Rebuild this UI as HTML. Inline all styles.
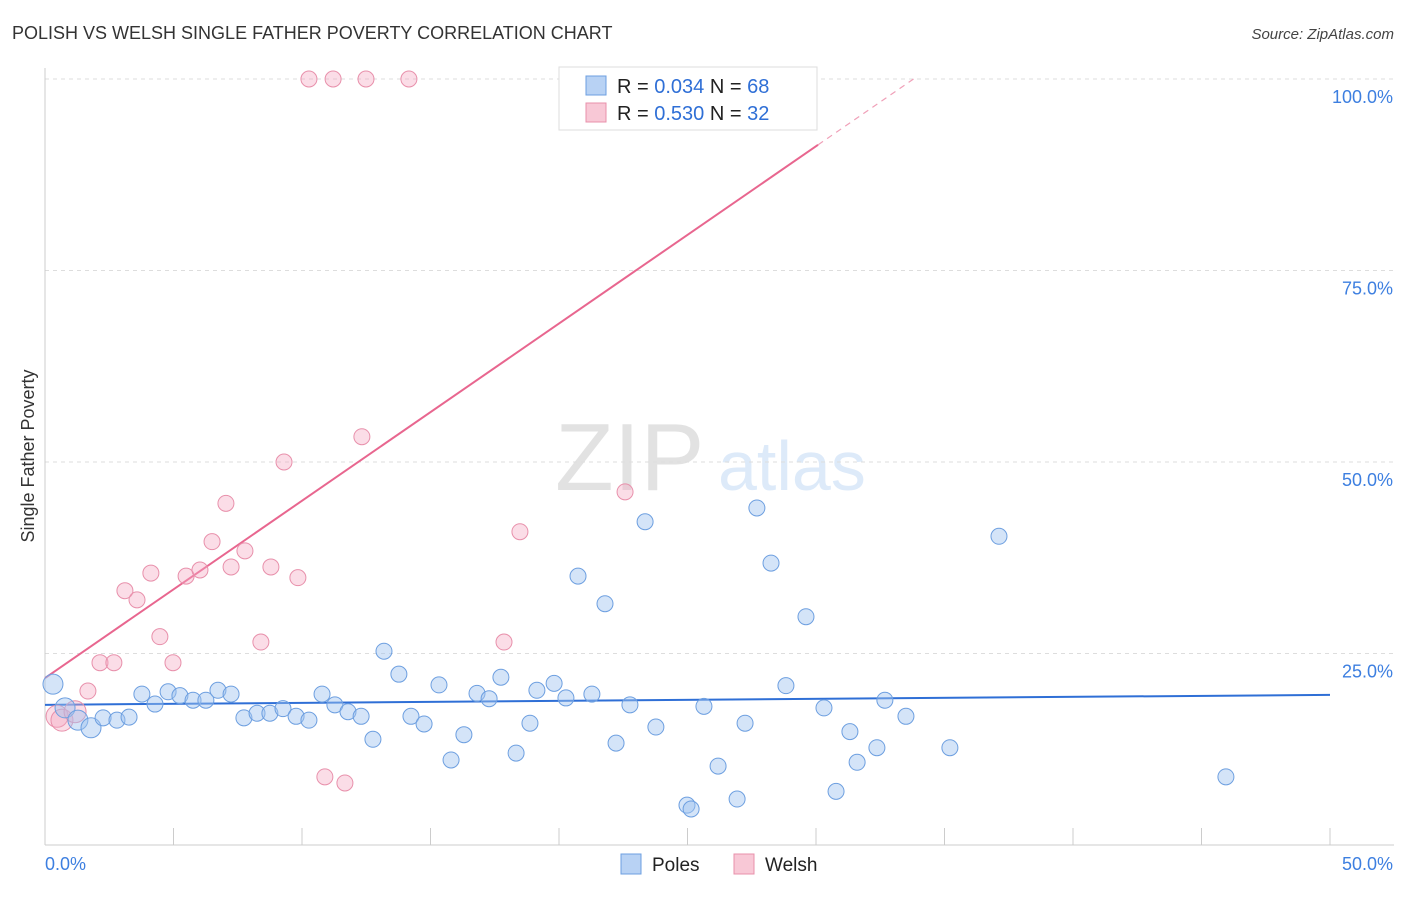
<!DOCTYPE html>
<html><head><meta charset="utf-8"><style>
body{margin:0;background:#fff;font-family:"Liberation Sans",sans-serif;}
svg text{font-family:"Liberation Sans",sans-serif;}
</style></head><body>
<svg id="chart" width="1406" height="892" xmlns="http://www.w3.org/2000/svg">
<text x="12" y="39" font-size="18" fill="#333">POLISH VS WELSH SINGLE FATHER POVERTY CORRELATION CHART</text>
<text x="1394" y="39" font-size="15" fill="#444" text-anchor="end" font-style="italic">Source: ZipAtlas.com</text>
<text transform="translate(34,456) rotate(-90)" font-size="18" fill="#333" text-anchor="middle">Single Father Poverty</text>
<g opacity="0.18"><text x="555" y="490" font-size="96" font-family="Liberation Serif" fill="#666">ZIP</text><text x="718" y="490" font-size="70" fill="#4a8fe0">atlas</text></g>
<g id="grid"></g><g id="axes"></g><g id="lines"></g><g id="pts"></g>
<g>
<rect x="559" y="67" width="258" height="63" fill="#fff" stroke="#ddd"/>
<rect x="586" y="76" width="20" height="19" fill="#b8d2f4" stroke="#6d9fe0"/>
<text x="617" y="93" font-size="20" fill="#222">R = <tspan fill="#2f6fd6">0.034</tspan>   N = <tspan fill="#2f6fd6">68</tspan></text>
<rect x="586" y="103" width="20" height="19" fill="#f8c8d6" stroke="#e890ab"/>
<text x="617" y="120" font-size="20" fill="#222">R = <tspan fill="#2f6fd6">0.530</tspan>   N = <tspan fill="#2f6fd6">32</tspan></text>
</g>
<g>
<rect x="621" y="854" width="20" height="20" fill="#b8d2f4" stroke="#6d9fe0"/>
<text x="652" y="871" font-size="19" fill="#222">Poles</text>
<rect x="734" y="854" width="20" height="20" fill="#f8c8d6" stroke="#e890ab"/>
<text x="765" y="871" font-size="19" fill="#222">Welsh</text>
</g>
</svg>
<script>
const blueX=[0.31,0.78,1.28,1.79,2.26,2.80,3.27,3.77,4.28,4.79,5.25,5.76,6.26,6.73,7.24,7.74,8.25,8.75,9.26,9.77,10.27,10.78,11.28,11.79,12.30,12.76,13.19,13.77,14.24,14.75,15.33,15.80,16.30,16.81,17.28,17.74,18.33,18.87,19.14,19.81,20.27,20.74,21.28,21.79,22.22,22.76,23.35,23.77,24.98,25.14,25.64,26.19,26.93,27.24,27.70,28.25,28.83,29.61,30.31,30.78,31.32,31.60,32.37,32.68,33.50,35.21,37.12,45.95];
const blueY=[21.0,17.9,16.3,15.3,16.6,16.3,16.7,19.7,18.4,20.0,19.5,18.9,18.9,20.2,19.7,16.6,17.2,17.2,17.8,16.8,16.3,19.7,18.3,17.4,16.8,13.8,25.3,22.3,16.8,15.8,20.9,11.1,14.4,19.8,19.1,21.9,12.0,15.9,20.2,21.1,19.2,35.1,19.7,31.5,13.3,18.3,42.2,15.4,5.2,4.7,18.1,10.3,6.0,15.9,44.0,36.8,20.8,29.8,17.9,7.0,14.8,10.8,12.7,18.9,16.8,12.7,40.3,8.9];
const pinkX=[0.47,0.66,1.17,1.67,2.14,2.68,3.11,3.58,4.12,4.47,4.98,5.49,6.03,6.50,7.04,7.24,7.78,8.40,8.79,9.30,9.84,10.27,10.89,11.21,11.67,12.33,12.49,14.16,17.86,18.48,22.57,26.58];
const pinkY=[16.8,16.3,17.4,20.1,23.8,23.8,33.2,32.0,35.5,27.2,23.8,35.1,35.9,39.6,44.6,36.3,38.4,26.5,36.3,50.0,34.9,100,8.9,100,8.1,53.3,100,100,26.5,40.9,46.1,100];
const blueLine=[18.3,19.6];   // y at x=0, y at x=50
const pinkLine=[21.8,2.314];  // intercept, slope
const yTicks=[25,50,75,100];
const yTickLabels=["25.0%","50.0%","75.0%","100.0%"];
const xTicks=[0,5,10,15,20,25,30,35,40,45,50];
const NS="http://www.w3.org/2000/svg";
const sx=v=>45+v*25.7, sy=v=>845-v*7.66;
function mk(parent,tag,attrs){const e=document.createElementNS(NS,tag);for(const k in attrs)e.setAttribute(k,attrs[k]);document.getElementById(parent).appendChild(e);return e;}
yTicks.forEach((t,i)=>{
 const l=mk('grid','line',{x1:45,x2:1394,y1:sy(t),y2:sy(t),stroke:'#ddd','stroke-dasharray':'4,4'});
 
 
 const tx=mk('axes','text',{x:1393,y:sy(t)+24,'font-size':18,fill:'#3d7fe0','text-anchor':'end'});
 tx.textContent=yTickLabels[i];
 
 
});
const ax=mk('axes','line',{x1:45,x2:1394,y1:845,y2:845,stroke:'#ccc'});


const ay=mk('axes','line',{x1:45,x2:45,y1:68,y2:845,stroke:'#ccc'});


xTicks.forEach(t=>{
 const l=mk('axes','line',{x1:sx(t),x2:sx(t),y1:828,y2:845,stroke:'#ccc'});
 
 
});
const x0=mk('axes','text',{x:45,y:870,'font-size':18,fill:'#3d7fe0'});x0.textContent='0.0%';


const x1=mk('axes','text',{x:1393,y:870,'font-size':18,fill:'#3d7fe0','text-anchor':'end'});x1.textContent='50.0%';


pinkX.forEach((x,i)=>{
 const c=mk('pts','circle',{cx:sx(x),cy:sy(pinkY[i]),r:i<3?11:8,fill:'rgba(244,170,195,0.4)',stroke:'#e890ab','stroke-width':1});
 
 
});
blueX.forEach((x,i)=>{
 const c=mk('pts','circle',{cx:sx(x),cy:sy(blueY[i]),r:i<4?10:8,fill:'rgba(160,195,240,0.45)',stroke:'#6d9fe0','stroke-width':1});
 
 
});
const bl=mk('lines','line',{x1:sx(0),y1:sy(blueLine[0]),x2:sx(50),y2:sy(blueLine[1]),stroke:'#2f6fd6','stroke-width':2});


const pEnd=30.08, pMax=(100-pinkLine[0])/pinkLine[1];
const pl=mk('lines','line',{x1:sx(0),y1:sy(pinkLine[0]),x2:sx(pEnd),y2:sy(pinkLine[0]+pinkLine[1]*pEnd),stroke:'#e8668f','stroke-width':2});


const pd=mk('lines','line',{x1:sx(pEnd),y1:sy(pinkLine[0]+pinkLine[1]*pEnd),x2:sx(pMax),y2:sy(100),stroke:'#f0a0b8','stroke-width':1.2,'stroke-dasharray':'6,5'});


</script>
</body></html>
